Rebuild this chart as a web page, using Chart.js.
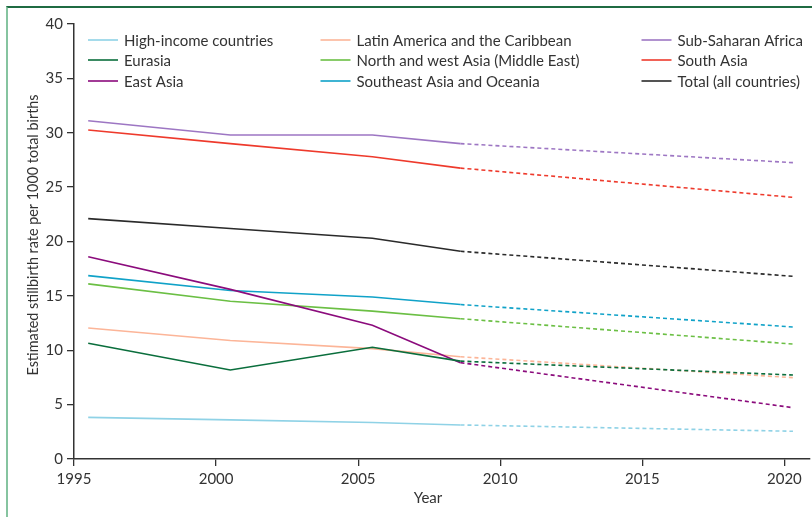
<!DOCTYPE html>
<html>
<head>
<meta charset="utf-8">
<script src="https://cdn.jsdelivr.net/npm/chart.js@4.4.1/dist/chart.umd.min.js"></script>
<style>
  html, body { margin: 0; padding: 0; background: #fff; }
  #wrap { position: relative; width: 812px; height: 517px; overflow: hidden; }
  #frame { position: absolute; left: 6px; top: 6px; right: -10px; bottom: -10px;
           border-top: 2px solid #1f6b42; border-left: 2px solid #86c4a0; }
  canvas { position: absolute; left: 0; top: 0; }
</style>
</head>
<body>
<div id="wrap">
  <div id="frame"></div>
  <canvas id="c" width="812" height="517"></canvas>
</div>
<script>
// ---- Data ----
const years = [1995.5, 2000.5, 2005.5, 2008.6];
const projYears = [2008.6, 2020.3];
const xTickValues = [1995, 2000, 2005, 2010, 2015, 2020];
const yTickValues = [0, 5, 10, 15, 20, 25, 30, 35, 40];
const xTitle = "Year";
const yTitle = "Estimated stillbirth rate per 1000 total births";

const seriesNames = [
  "High-income countries",
  "Eurasia",
  "East Asia",
  "Latin America and the Caribbean",
  "North and west Asia (Middle East)",
  "Southeast Asia and Oceania",
  "Sub-Saharan Africa",
  "South Asia",
  "Total (all countries)"
];

const highIncome      = [3.83, 3.6, 3.35, 3.13];
const highIncomeProj  = [3.13, 2.55];
const eurasia         = [10.64, 8.18, 10.27, 9.0];
const eurasiaProj     = [9.0, 7.72];
const eastAsia        = [18.6, 15.6, 12.3, 8.86];
const eastAsiaProj    = [8.86, 4.72];
const latinAmerica    = [12.05, 10.9, 10.15, 9.4];
const latinAmericaProj= [9.4, 7.48];
const northWestAsia   = [16.1, 14.5, 13.6, 12.9];
const northWestAsiaProj = [12.9, 10.57];
const southeastAsia   = [16.86, 15.5, 14.9, 14.2];
const southeastAsiaProj = [14.2, 12.14];
const subSaharan      = [31.1, 29.8, 29.8, 29.0];
const subSaharanProj  = [29.0, 27.25];
const southAsia       = [30.25, 29.0, 27.8, 26.75];
const southAsiaProj   = [26.75, 24.06];
const total           = [22.1, 21.2, 20.3, 19.1];
const totalProj       = [19.1, 16.8];

const observed  = [highIncome, eurasia, eastAsia, latinAmerica, northWestAsia, southeastAsia, subSaharan, southAsia, total];
const projected = [highIncomeProj, eurasiaProj, eastAsiaProj, latinAmericaProj, northWestAsiaProj, southeastAsiaProj, subSaharanProj, southAsiaProj, totalProj];

const colors = ["#8fd2e6", "#0a6e3c", "#8b0b7c", "#fcb598", "#6bbf44", "#10a2c8", "#9d76c3", "#ee3a2c", "#2a2a2a"];

// ---- Chart ----
const datasets = [];
seriesNames.forEach((name, i) => {
  datasets.push({
    label: name,
    data: years.map((x, k) => ({ x: x, y: observed[i][k] })),
    borderColor: colors[i], backgroundColor: colors[i],
    borderWidth: 1.6, pointRadius: 0, fill: false, tension: 0
  });
  datasets.push({
    label: name + " (projected)",
    data: projYears.map((x, k) => ({ x: x, y: projected[i][k] })),
    borderColor: colors[i], backgroundColor: colors[i],
    borderWidth: 1.6, borderDash: [4, 3], pointRadius: 0, fill: false, tension: 0
  });
});

const FONT = "Lato, 'Open Sans', sans-serif";
const TXT = "#333";

const legendPlugin = {
  id: "customLegend",
  afterDraw(chart) {
    const ctx = chart.ctx;
    const colX = [88, 320.5, 641.5];
    const rowY = [40, 60, 81];
    ctx.save();
    ctx.font = "15px " + FONT;
    ctx.textBaseline = "middle";
    ctx.textAlign = "left";
    seriesNames.forEach((name, i) => {
      const c = Math.floor(i / 3), r = i % 3;
      const x = colX[c], y = rowY[r];
      ctx.strokeStyle = colors[i];
      ctx.lineWidth = 1.6;
      ctx.beginPath();
      ctx.moveTo(x, y);
      ctx.lineTo(x + 30, y);
      ctx.stroke();
      ctx.fillStyle = TXT;
      ctx.fillText(name, x + 36, y + 1);
    });
    // axis titles
    ctx.fillStyle = TXT;
    ctx.textAlign = "center";
    ctx.font = "15px " + FONT;
    ctx.fillText(xTitle, 428, 498);
    ctx.translate(33, 235);
    ctx.rotate(-Math.PI / 2);
    ctx.font = "14.4px " + FONT;
    ctx.fillText(yTitle, 0, 0);
    ctx.restore();
  }
};

new Chart(document.getElementById("c"), {
  type: "line",
  data: { datasets: datasets },
  plugins: [legendPlugin],
  options: {
    responsive: false,
    animation: false,
    devicePixelRatio: 1,
    layout: { padding: { left: 21, right: 2, top: 24, bottom: 7 } },
    plugins: { legend: { display: false }, tooltip: { enabled: false } },
    scales: {
      x: {
        type: "linear", min: 1995, max: 2020.9,
        afterBuildTicks: (s) => { s.ticks = xTickValues.map(v => ({ value: v })); },
        afterFit: (s) => { s.height = 51; },
        ticks: { callback: (v) => String(v), font: { family: FONT, size: 15 }, color: TXT, padding: 4, maxRotation: 0 },
        grid: { display: true, drawOnChartArea: false, drawTicks: true, tickLength: 7, color: "#333", lineWidth: 1.3 },
        border: { display: true, color: "#333", width: 1.5 },
        title: { display: false }
      },
      y: {
        min: 0, max: 40,
        afterBuildTicks: (s) => { s.ticks = yTickValues.map(v => ({ value: v })); },
        afterFit: (s) => { s.width = 53; },
        ticks: { font: { family: FONT, size: 15 }, color: TXT, padding: 4 },
        grid: { display: true, drawOnChartArea: false, drawTicks: true, tickLength: 7, color: "#333", lineWidth: 1.3 },
        border: { display: true, color: "#333", width: 1.5 },
        title: { display: false }
      }
    }
  }
});
</script>
</body>
</html>
